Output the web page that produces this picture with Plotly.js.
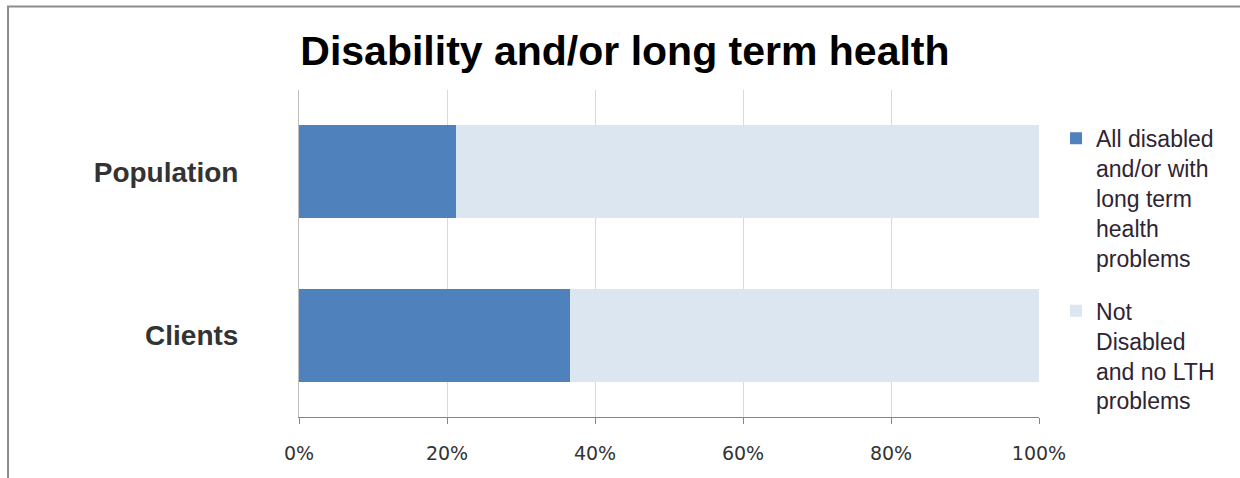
<!DOCTYPE html>
<html>
<head>
<meta charset="utf-8">
<script src="https://cdn.plot.ly/plotly-3.0.1.min.js"></script>
<style>html,body{margin:0;padding:0;background:#fff;}#chart{width:1240px;height:478px;}</style>
</head>
<body>
<div id="chart"></div>
<script>
const categories = ["Population", "Clients"];
const seriesNames = ["All disabled<br>and/or with<br>long term<br>health<br>problems", "Not<br>Disabled<br>and no LTH<br>problems"];
const disabledValues = [21.2, 36.6];
const notDisabledValues = [78.8, 63.4];
const tickValues = [0, 20, 40, 60, 80, 100];
const tickLabels = ["0%", "20%", "40%", "60%", "80%", "100%"];
const titleText = "Disability and/or long term health";

const traces = [
  {type: "bar", orientation: "h", y: categories, x: disabledValues, name: seriesNames[0],
   legendgroup: "a", marker: {color: "#4F81BD"}, hoverinfo: "x+y"},
  {type: "bar", orientation: "h", y: categories, x: notDisabledValues, name: seriesNames[1],
   legendgroup: "b", marker: {color: "#DCE6F1"}, hoverinfo: "x+y"}
];

const layout = {
  width: 1240, height: 478,
  margin: {l: 299, r: 201, t: 90, b: 61, pad: 0},
  paper_bgcolor: "#ffffff", plot_bgcolor: "#ffffff",
  barmode: "stack", bargap: 0.43,
  title: {text: "<b>" + titleText + "</b>", x: 0.504, xanchor: "center", y: 0.895, yanchor: "middle",
          font: {family: "Liberation Sans, Arial, sans-serif", size: 41, color: "#000000"}},
  xaxis: {range: [0, 100], tickvals: tickValues, ticktext: tickLabels,
          showgrid: true, gridcolor: "#D9D9D9", gridwidth: 1,
          showline: true, linecolor: "#868686", linewidth: 1,
          ticks: "outside", ticklen: 6, tickcolor: "#868686", ticklabelstandoff: 13,
          tickfont: {family: "DejaVu Sans, Verdana, sans-serif", size: 19, color: "#333333"},
          zeroline: false, fixedrange: true},
  yaxis: {autorange: "reversed", showline: true, linecolor: "#BFBFBF", linewidth: 1,
          ticks: "", showgrid: false, ticklabelstandoff: 54,
          tickfont: {family: "Liberation Sans, Arial, sans-serif", size: 28, color: "#333333", weight: "bold"},
          fixedrange: true},
  legend: {x: 1.023, xanchor: "left", y: 0.918, yanchor: "top", valign: "top",
           tracegroupgap: 20, traceorder: "grouped",
           font: {family: "Liberation Sans, Arial, sans-serif", size: 23, color: "#2E2433"},
           bgcolor: "rgba(0,0,0,0)"},
  shapes: [
    {type: "rect", xref: "paper", yref: "paper", x0: -0.3932, x1: 1.6, y0: -0.4, y1: 1.2554,
     line: {color: "#8C8C8C", width: 2}, fillcolor: "rgba(0,0,0,0)", layer: "above"}
  ],
  showlegend: true
};

Plotly.newPlot("chart", traces, layout, {displayModeBar: false, staticPlot: true});
</script>
</body>
</html>
